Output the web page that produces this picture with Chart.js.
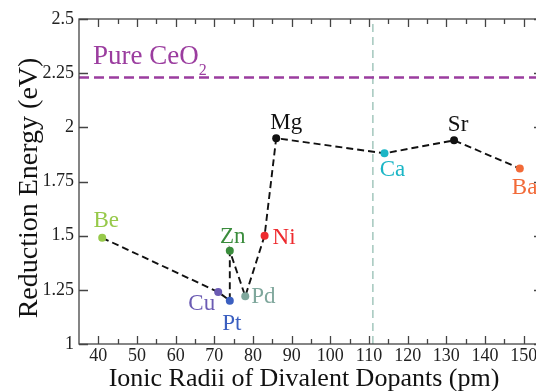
<!DOCTYPE html>
<html>
<head>
<meta charset="utf-8">
<script src="https://cdn.jsdelivr.net/npm/chart.js@4.4.1/dist/chart.umd.min.js"></script>
<style>
  html, body { margin: 0; padding: 0; background: #fff; overflow: hidden; }
  #wrap { width: 536px; height: 391px; overflow: hidden; }
</style>
</head>
<body>
<div id="wrap"><canvas id="chart" width="550" height="391"></canvas></div>
<script>
// dopants, radii (pm) and reduction energies (eV)
const dopants = ['Be', 'Cu', 'Pt', 'Zn', 'Pd', 'Ni', 'Mg', 'Ca', 'Sr', 'Ba'];
const ionicRadii = [41, 71, 74, 74, 78, 83, 86, 114, 132, 149];
const reductionEnergy = [1.49, 1.24, 1.20, 1.43, 1.22, 1.50, 1.95, 1.88, 1.94, 1.81];
const pureCeO2 = 2.23;
const ceRadius = 111;
const xTicks = [40, 50, 60, 70, 80, 90, 100, 110, 120, 130, 140, 150];
const yTicks = [1, 1.25, 1.5, 1.75, 2, 2.25, 2.5];
const xTitle = 'Ionic Radii of Divalent Dopants (pm)';
const yTitle = 'Reduction Energy (eV)';

// colours and label offsets (style only)
const pointColors = ['#97c94a', '#6b5bb3', '#3b5fc0', '#3a8c3c', '#7fa79c', '#ee2b2f',
                     '#111111', '#1cb6c6', '#111111', '#f26a38'];
// [dx, baseline dy, align]
const labelPos = [
  [4, -11, 'center'], [-3, 18, 'right'], [2, 29, 'center'], [3, -8, 'center'],
  [6, 7, 'left'], [8, 8, 'left'], [10, -9, 'center'], [8, 23, 'center'],
  [4, -9, 'center'], [-8, 25, 'left']
];

const serif = '"Liberation Serif", "DejaVu Serif", serif';

// tick marks pointing inward, frame, axis titles and text labels
const decor = {
  id: 'decor',
  afterDatasetsDraw(chart) {
    const { ctx, chartArea: a, scales: { x, y } } = chart;
    ctx.save();
    ctx.strokeStyle = '#444';
    ctx.lineWidth = 1.3;
    ctx.strokeRect(a.left, a.top, a.right - a.left, a.bottom - a.top);
    ctx.beginPath();
    for (let v = 40; v <= 155; v += 5) {
      const px = Math.round(x.getPixelForValue(v)) + 0.5;
      const len = v % 10 === 0 ? 8 : 5;
      ctx.moveTo(px, a.bottom); ctx.lineTo(px, a.bottom - len);
      ctx.moveTo(px, a.top); ctx.lineTo(px, a.top + len);
    }
    yTicks.forEach(v => {
      const py = Math.round(y.getPixelForValue(v)) + 0.5;
      ctx.moveTo(a.left, py); ctx.lineTo(a.left + 9, py);
      ctx.moveTo(a.right, py); ctx.lineTo(a.right - 9, py);
    });
    ctx.stroke();

    // point labels
    const meta = chart.getDatasetMeta(2);
    ctx.font = '23px ' + serif;
    ctx.textBaseline = 'alphabetic';
    meta.data.forEach((pt, i) => {
      const [dx, dy, al] = labelPos[i];
      ctx.fillStyle = pointColors[i];
      ctx.textAlign = al;
      ctx.fillText(dopants[i], pt.x + dx, pt.y + dy);
    });

    // Pure CeO2 label
    const ly = y.getPixelForValue(pureCeO2);
    ctx.fillStyle = '#9b3d9f';
    ctx.textAlign = 'left';
    ctx.font = '27px ' + serif;
    ctx.fillText('Pure CeO', 93, ly - 14);
    const w = ctx.measureText('Pure CeO').width;
    ctx.font = '16px ' + serif;
    ctx.fillText('2', 93 + w, ly - 3);

    // axis titles
    ctx.fillStyle = '#111';
    ctx.textAlign = 'center';
    ctx.font = '26px ' + serif;
    ctx.fillText(xTitle, 304, 386);
    ctx.font = '28px ' + serif;
    ctx.translate(37, 188);
    ctx.rotate(-Math.PI / 2);
    ctx.fillText(yTitle, 0, 0);
    ctx.restore();
  }
};

new Chart(document.getElementById('chart'), {
  type: 'scatter',
  data: {
    datasets: [
      {
        data: [{ x: 35, y: pureCeO2 }, { x: 155, y: pureCeO2 }],
        showLine: true,
        borderColor: '#9b3d9f',
        borderWidth: 2.5,
        borderDash: [10, 5],
        pointRadius: 0
      },
      {
        data: [{ x: ceRadius, y: 1 }, { x: ceRadius, y: 2.5 }],
        showLine: true,
        borderColor: '#a3c7bd',
        borderWidth: 1.5,
        borderDash: [8, 5],
        pointRadius: 0
      },
      {
        data: ionicRadii.map((r, i) => ({ x: r, y: reductionEnergy[i] })),
        showLine: true,
        borderColor: '#111',
        borderWidth: 1.9,
        borderDash: [7, 4],
        pointRadius: 4,
        pointBorderWidth: 0,
        pointBackgroundColor: pointColors
      }
    ]
  },
  options: {
    responsive: false,
    animation: false,
    layout: { padding: { top: 19, right: 7, left: 0, bottom: 0 } },
    plugins: { legend: { display: false }, tooltip: { enabled: false } },
    scales: {
      x: {
        type: 'linear',
        min: 35,
        max: 155,
        afterBuildTicks: s => { s.ticks = xTicks.map(v => ({ value: v })); },
        afterFit: s => { s.height = 47; },
        grid: { display: false, drawTicks: false, tickLength: 0 },
        border: { display: false },
        ticks: {
          color: '#222',
          padding: 1,
          maxRotation: 0,
          font: { family: serif, size: 18 },
          callback: v => String(v)
        }
      },
      y: {
        min: 1,
        max: 2.5,
        afterBuildTicks: s => { s.ticks = yTicks.map(v => ({ value: v })); },
        afterFit: s => { s.width = 79; },
        grid: { display: false, drawTicks: false, tickLength: 0 },
        border: { display: false },
        ticks: {
          color: '#222',
          padding: 5,
          font: { family: serif, size: 18 },
          callback: v => String(+v.toFixed(2))
        }
      }
    }
  },
  plugins: [decor]
});
</script>
</body>
</html>
